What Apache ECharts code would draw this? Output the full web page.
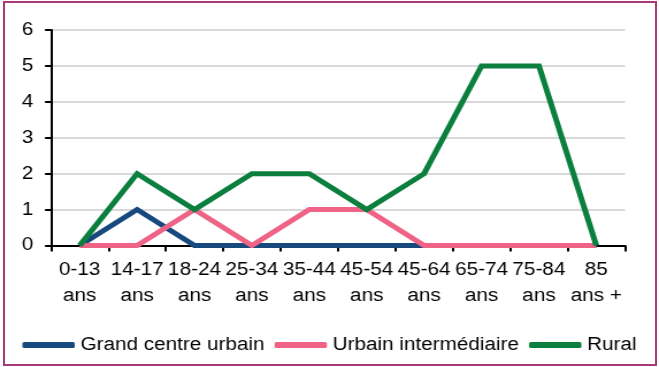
<!DOCTYPE html>
<html>
<head>
<meta charset="utf-8">
<script src="https://cdn.jsdelivr.net/npm/echarts@6/dist/echarts.min.js"></script>
<style>
  html, body { margin: 0; padding: 0; background: #fff; }
  body { width: 659px; height: 367px; position: relative; overflow: hidden; }
  #frame { position: absolute; left: 3px; top: 1px; width: 650px; height: 361px; border: 2px solid #a8397a; box-sizing: content-box; pointer-events: none; }
  #chart { position: absolute; left: 0; top: 0; width: 573px; height: 367px; transform: scaleX(1.15); transform-origin: 0 0; }
</style>
</head>
<body>
<div id="chart"></div>
<div id="frame"></div>
<script>
const categories = ['0-13\nans', '14-17\nans', '18-24\nans', '25-34\nans', '35-44\nans', '45-54\nans', '45-64\nans', '65-74\nans', '75-84\nans', '85\nans +'];
const grandCentreUrbain = [0, 1, 0, 0, 0, 0, 0, 0, 0, 0];
const urbainIntermediaire = [0, 0, 1, 0, 1, 1, 0, 0, 0, 0];
const rural = [0, 2, 1, 2, 2, 1, 2, 5, 5, 0];
const seriesNames = ['Grand centre urbain', 'Urbain intermédiaire', 'Rural'];
const yTicks = [0, 1, 2, 3, 4, 5, 6];

const font = "'Liberation Sans', Arial, sans-serif";
const colors = ['#17497e', '#ee6386', '#0b7f3e'];
const chart = echarts.init(document.getElementById('chart'), null, { renderer: 'canvas' });
const data = [grandCentreUrbain, urbainIntermediaire, rural];
chart.setOption({
  animation: false,
  color: colors,
  textStyle: { fontFamily: font },
  grid: { left: 44.35, right: 29.5, top: 30, bottom: 121.5 },
  legend: {
    left: 14.5, top: 331, itemWidth: 45.5, itemHeight: 6, itemGap: 8.7,
    icon: 'roundRect',
    textStyle: { fontFamily: font, fontSize: 18, color: '#000' },
    data: seriesNames
  },
  xAxis: {
    type: 'category', data: categories, boundaryGap: true,
    axisLine: { lineStyle: { color: '#000', width: 2 } },
    axisTick: { show: true, length: 6, lineStyle: { color: '#000', width: 2 } },
    axisLabel: { fontFamily: font, fontSize: 18, color: '#000', lineHeight: 26, margin: 11.5, interval: 0 },
    splitLine: { show: false }
  },
  yAxis: {
    type: 'value', min: yTicks[0], max: yTicks[yTicks.length - 1], interval: 1,
    axisLine: { show: true, lineStyle: { color: '#000', width: 2 } },
    axisTick: { show: true, length: 5.2, lineStyle: { color: '#000', width: 2 } },
    axisLabel: { fontFamily: font, fontSize: 18, color: '#000', margin: 15.4 },
    splitLine: { show: true, lineStyle: { color: '#d9d9d9', width: 2 } }
  },
  series: seriesNames.map((n, i) => ({
    name: n, type: 'line', data: data[i], symbol: 'none', z: 2 + i,
    lineStyle: { width: 5, color: colors[i], join: 'miter' },
    itemStyle: { color: colors[i] }
  }))
});
</script>
</body>
</html>
